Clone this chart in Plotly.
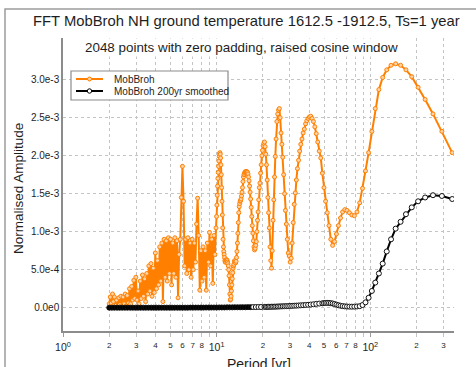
import plotly.graph_objects as go

# ---------------- data (amplitudes in units of 1e-3) ----------------
mob_period = [
    2.00, 2.03, 2.06, 2.10, 2.13, 2.16, 2.20, 2.23, 2.27, 2.31,
    2.34, 2.38, 2.42, 2.46, 2.50, 2.54, 2.58, 2.62, 2.66, 2.71,
    2.75, 2.80, 2.84, 2.89, 2.93, 2.98, 3.03, 3.08, 3.13, 3.18,
    3.23, 3.29, 3.34, 3.40, 3.45, 3.51, 3.56, 3.62, 3.68, 3.74,
    3.80, 3.87, 3.93, 3.99, 4.06, 4.12, 4.19, 4.26, 4.33, 4.40,
    4.47, 4.55, 4.62, 4.70, 4.77, 4.85, 4.93, 5.01, 5.09, 5.18,
    5.26, 5.35, 5.43, 5.52, 5.61, 5.70, 5.80, 5.89, 5.99, 6.09,
    6.19, 6.29, 6.39, 6.50, 6.60, 6.71, 6.82, 6.93, 7.05, 7.16,
    7.28, 7.40, 7.52, 7.64, 7.77, 7.90, 8.03, 8.16, 8.29, 8.43,
    8.56, 8.70, 8.85, 8.99, 9.14, 9.29, 9.44, 9.60, 9.75, 9.91,
    9.990, 10.039, 10.089, 10.139, 10.189, 10.24, 10.291, 10.343, 10.396, 10.449,
    10.503, 10.557, 10.611, 10.667, 10.723, 10.779, 10.836, 10.894, 10.952, 11.011,
    11.070, 11.130, 11.191, 11.253, 11.315, 11.378, 11.441, 11.506, 11.571, 11.636,
    11.703, 11.770, 11.838, 11.907, 11.977, 12.047, 12.118, 12.190, 12.263, 12.337,
    12.412, 12.488, 12.564, 12.642, 12.720, 12.8, 12.881, 12.962, 13.045, 13.128,
    13.213, 13.299, 13.386, 13.474, 13.563, 13.653, 13.745, 13.838, 13.932, 14.027,
    14.124, 14.222, 14.322, 14.423, 14.525, 14.629, 14.734, 14.841, 14.949, 15.059,
    15.170, 15.284, 15.398, 15.515, 15.634, 15.754, 15.876, 16.0, 16.126, 16.254,
    16.384, 16.516, 16.650, 16.787, 16.926, 17.067, 17.210, 17.356, 17.504, 17.655,
    17.809, 17.965, 18.124, 18.286, 18.450, 18.618, 18.789, 18.963, 19.140, 19.321,
    19.505, 19.692, 19.883, 20.078, 20.277, 20.48, 20.687, 20.898, 21.113, 21.333,
    21.558, 21.787, 22.022, 22.261, 22.505, 22.756, 23.011, 23.273, 23.540, 23.814,
    24.094, 24.381, 24.675, 24.976, 25.284, 25.6, 25.924, 26.256, 26.597, 26.947,
    27.307, 27.676, 28.055, 28.444, 28.845, 29.257, 29.681, 30.118, 30.567, 31.030,
    31.508, 32.0, 32.508, 33.032, 33.574, 34.133, 34.712, 35.310, 35.930, 36.571,
    37.236, 37.926, 38.642, 39.385, 40.157, 40.96, 41.796, 42.667, 43.574, 44.522,
    45.511, 46.545, 47.628, 48.762, 49.951, 51.2, 52.513, 53.895, 55.351, 56.889,
    58.514, 60.235, 62.061, 64.0, 66.065, 68.267, 70.621, 73.143, 75.852, 78.769,
    81.92, 85.333, 89.043, 93.091, 97.524, 102.4, 107.789, 113.778, 120.471, 128.0,
    136.533, 146.286, 157.538, 170.667, 186.182, 204.8, 227.556, 256.0, 292.571, 341.333,
]
mob_amp = [
    0.05, 0.14, 0.06, 0.18, 0.08, 0.14, 0.03, 0.10, 0.02, 0.13,
    0.04, 0.15, 0.02, 0.14, 0.05, 0.18, 0.02, 0.16, 0.06, 0.25,
    0.05, 0.28, 0.10, 0.36, 0.12, 0.40, 0.10, 0.22, 0.05, 0.35,
    0.12, 0.43, 0.15, 0.38, 0.08, 0.45, 0.18, 0.55, 0.22, 0.58,
    0.15, 0.52, 0.20, 0.72, 0.25, 0.62, 0.30, 0.80, 0.35, 0.85,
    0.08, 0.90, 0.40, 0.88, 0.35, 0.92, 0.45, 0.90, 0.30, 0.85,
    0.45, 0.92, 0.40, 0.88, 0.13, 0.70, 0.90, 1.45, 1.86, 1.40,
    0.55, 0.90, 0.45, 0.92, 0.50, 0.85, 0.40, 0.90, 0.50, 0.85,
    0.60, 1.10, 1.44, 0.95, 0.23, 0.75, 0.35, 0.80, 0.40, 0.75,
    0.23, 0.85, 0.60, 0.99, 0.55, 0.90, 0.32, 0.95, 0.70, 1.05,
    1.20, 1.35, 1.48, 1.60, 1.70, 1.78, 1.86, 1.93, 1.99, 2.03,
    2.04, 2.02, 1.97, 1.88, 1.75, 1.58, 1.40, 1.22, 1.05, 0.90,
    0.80, 0.74, 0.70, 0.66, 0.62, 0.60, 0.60, 0.62, 0.63, 0.63,
    0.62, 0.60, 0.58, 0.55, 0.50, 0.42, 0.30, 0.18, 0.10, 0.11,
    0.15, 0.22, 0.30, 0.38, 0.46, 0.52, 0.55, 0.57, 0.61, 0.62,
    0.60, 0.59, 0.61, 0.66, 0.74, 0.85, 0.98, 1.12, 1.25, 1.33,
    1.37, 1.40, 1.41, 1.43, 1.47, 1.52, 1.58, 1.66, 1.72, 1.75,
    1.77, 1.78, 1.79, 1.79, 1.79, 1.79, 1.78, 1.76, 1.72, 1.67,
    1.60, 1.52, 1.43, 1.32, 1.20, 1.08, 0.98, 0.88, 0.80, 0.76,
    0.78, 0.82, 0.87, 1.00, 1.15, 1.26, 1.42, 1.58, 1.64, 1.77,
    1.88, 2.00, 2.07, 2.13, 2.16, 2.18, 2.12, 2.02, 1.88, 1.68,
    1.45, 1.25, 1.05, 0.80, 0.62, 0.52, 0.75, 1.15, 1.42, 1.72,
    1.99, 2.22, 2.45, 2.55, 2.60, 2.62, 2.50, 2.30, 2.15, 1.98,
    1.75, 1.50, 1.28, 1.10, 0.90, 0.72, 0.68, 0.60, 0.65, 0.85,
    1.12, 1.36, 1.51, 1.68, 1.83, 1.94, 2.06, 2.15, 2.22, 2.30,
    2.35, 2.42, 2.46, 2.49, 2.51, 2.52, 2.49, 2.45, 2.38, 2.29,
    2.18, 2.06, 1.97, 1.77, 1.58, 1.40, 1.25, 1.08, 0.90, 0.82,
    0.87, 0.97, 1.08, 1.18, 1.26, 1.29, 1.28, 1.25, 1.22, 1.21,
    1.26, 1.38, 1.57, 1.80, 2.04, 2.32, 2.62, 2.87, 3.03, 3.13,
    3.19, 3.21, 3.19, 3.13, 3.04, 2.90, 2.74, 2.55, 2.32, 2.04,
]

smooth_period = [
    2.00, 2.08, 2.16, 2.25, 2.34, 2.43, 2.53, 2.63, 2.74, 2.85,
    2.96, 3.08, 3.20, 3.33, 3.46, 3.60, 3.75, 3.90, 4.05, 4.21,
    4.38, 4.56, 4.74, 4.93, 5.13, 5.33, 5.55, 5.77, 6.00, 6.24,
    6.49, 6.75, 7.02, 7.30, 7.59, 7.90, 8.21, 8.54, 8.88, 9.24,
    9.61, 9.99, 10.39, 10.80, 11.24, 11.69, 12.15, 12.64, 13.14, 13.67,
    14.22, 14.78, 15.38, 15.99, 16.63, 17.30, 17.99, 18.71, 19.45,
    20.48, 20.898, 21.333, 21.787, 22.261, 22.756, 23.273, 23.814, 24.381, 24.976,
    25.6, 26.256, 26.947, 27.676, 28.444, 29.257, 30.118, 31.030, 32.0, 33.032,
    34.133, 35.310, 36.571, 37.926, 39.385, 40.96, 42.667, 44.522, 46.545, 48.762,
    49.951, 51.2, 52.513, 53.895, 55.351, 56.889, 58.514, 60.235, 62.061, 64.0,
    66.065, 68.267, 70.621, 73.143, 75.852, 78.769, 81.92, 85.333, 89.043, 93.091,
    97.524, 102.4, 107.789, 113.778, 120.471, 128.0, 136.533, 146.286, 157.538, 170.667,
    186.182, 204.8, 227.556, 256.0, 292.571, 341.333,
]
smooth_amp = [
    0.000, 0.000, 0.000, 0.000, 0.000, 0.000, 0.000, 0.000, 0.000, 0.000,
    0.000, 0.000, 0.000, 0.000, 0.000, 0.000, 0.000, 0.000, 0.000, 0.000,
    0.000, 0.000, 0.000, 0.000, 0.000, 0.000, 0.000, 0.000, 0.000, 0.000,
    0.000, 0.001, 0.001, 0.001, 0.001, 0.001, 0.001, 0.002, 0.002, 0.002,
    0.002, 0.002, 0.003, 0.003, 0.003, 0.004, 0.004, 0.004, 0.005, 0.005,
    0.005, 0.006, 0.006, 0.007, 0.007, 0.008, 0.008, 0.009, 0.009,
    0.010, 0.010, 0.011, 0.011, 0.012, 0.012, 0.013, 0.013, 0.014, 0.015,
    0.016, 0.017, 0.018, 0.019, 0.020, 0.021, 0.023, 0.024, 0.026, 0.027,
    0.029, 0.031, 0.033, 0.036, 0.038, 0.041, 0.045, 0.050, 0.054, 0.058,
    0.060, 0.062, 0.063, 0.062, 0.059, 0.055, 0.048, 0.040, 0.032, 0.026,
    0.021, 0.017, 0.015, 0.014, 0.013, 0.014, 0.016, 0.020, 0.035, 0.070,
    0.13, 0.22, 0.33, 0.45, 0.58, 0.74, 0.90, 1.04, 1.13, 1.23,
    1.32, 1.40, 1.45, 1.48, 1.47, 1.43,
]

y_tickvals = [0, 5e-4, 1e-3, 1.5e-3, 2e-3, 2.5e-3, 3e-3]
y_ticktext = ["0.0e0", "5.0e-4", "1.0e-3", "1.5e-3", "2.0e-3", "2.5e-3", "3.0e-3"]

x_major_vals = [1, 10, 100]
x_major_text = ["10<sup>0</sup>", "10<sup>1</sup>", "10<sup>2</sup>"]
x_gridvals = [2, 3, 4, 5, 6, 7, 8, 9, 20, 30, 40, 50, 60, 70, 80, 90, 200, 300]
x_minor_vals = [2, 3, 4, 5, 6, 7, 8, 20, 30, 40, 50, 60, 70, 80, 200, 300]
x_minor_text = ["2", "3", "4", "5", "6", "7", "8", "2", "3", "4", "5", "6", "7", "8", "2", "3"]

# ---------------- layout helpers ----------------
W, H = 476, 367
ML, MR, MT, MB = 63, 22, 38, 36
PW, PH = W - ML - MR, H - MT - MB


def px_x(px):
    return (px - ML) / PW


def px_y(py):
    return (H - MB - py) / PH


ORANGE = "#ff8000"
FONT = "Liberation Sans, Arial, sans-serif"
TXT = "#1e1e1e"

smooth_fill = ["black" if p < 17 else "white" for p in smooth_period]

fig = go.Figure()
fig.add_trace(go.Scatter(
    x=mob_period, y=[a * 1e-3 for a in mob_amp], name="MobBroh",
    mode="lines+markers", line=dict(color=ORANGE, width=2),
    marker=dict(symbol="circle", size=4, color="#ffd2a6", line=dict(color=ORANGE, width=1)),
    showlegend=False,
))
fig.add_trace(go.Scatter(
    x=smooth_period, y=[a * 1e-3 for a in smooth_amp], name="MobBroh 200yr smoothed",
    xaxis="x2", yaxis="y",
    mode="lines+markers", line=dict(color="black", width=2),
    marker=dict(symbol="circle", size=5, color=smooth_fill, line=dict(color="#111111", width=1)),
    showlegend=False,
))

grid = dict(showgrid=True, gridcolor="#c4c4c4", griddash="dot", gridwidth=1)

fig.update_layout(
    width=W, height=H,
    margin=dict(l=ML, r=MR, t=MT, b=MB),
    paper_bgcolor="white", plot_bgcolor="white",
    font=dict(family=FONT, color=TXT),
    xaxis=dict(type="log", range=[0, 2.545], tickmode="array", tickvals=x_major_vals,
               ticktext=x_major_text, tickfont=dict(size=10.5, color=TXT),
               showline=True, linecolor="#8c8c8c", linewidth=1.5,
               ticks="outside", ticklen=4, tickcolor="#999999", zeroline=False,
               ticklabelstandoff=2,
               minor=dict(tickmode="array", tickvals=x_gridvals, ticks="outside", ticklen=4,
                          tickcolor="#c4c4c4", showgrid=True, gridcolor="#c4c4c4",
                          griddash="dot", gridwidth=1),
               **grid),
    xaxis2=dict(type="log", range=[0, 2.545], overlaying="x", anchor="y", side="bottom",
                tickmode="array", tickvals=x_minor_vals, ticktext=x_minor_text,
                tickfont=dict(size=8, color=TXT), showgrid=False, showline=False,
                ticks="", zeroline=False, ticklabelstandoff=8),
    yaxis=dict(range=[-3.07e-4, 3.549e-3], tickmode="array", tickvals=y_tickvals,
               ticktext=y_ticktext, tickfont=dict(size=10, color=TXT),
               showline=True, linecolor="#8c8c8c", linewidth=1.5, ticks="",
               zeroline=False, **grid),
    showlegend=False,
)

shapes = [
    # outer frame
    dict(type="rect", xref="paper", yref="paper", x0=px_x(5), x1=px_x(495),
         y0=px_y(390), y1=px_y(9), line=dict(color="#9c9c9c", width=1.5)),
    # legend box
    dict(type="rect", xref="paper", yref="paper", x0=px_x(71), x1=px_x(228),
         y0=px_y(100), y1=px_y(71), line=dict(color="#8c8c8c", width=1.2), fillcolor="white"),
    dict(type="line", xref="paper", yref="paper", x0=px_x(76), x1=px_x(103),
         y0=px_y(79), y1=px_y(79), line=dict(color=ORANGE, width=2)),
    dict(type="circle", xref="paper", yref="paper", x0=px_x(87.5), x1=px_x(91.5),
         y0=px_y(81), y1=px_y(77), line=dict(color=ORANGE, width=1), fillcolor="#ffd2a6"),
    dict(type="line", xref="paper", yref="paper", x0=px_x(76), x1=px_x(103),
         y0=px_y(91), y1=px_y(91), line=dict(color="black", width=2)),
    dict(type="circle", xref="paper", yref="paper", x0=px_x(87.3), x1=px_x(91.7),
         y0=px_y(93.2), y1=px_y(88.8), line=dict(color="black", width=1), fillcolor="white"),
]
fig.update_layout(shapes=shapes)

annotations = [
    dict(text="FFT MobBroh NH ground temperature 1612.5 -1912.5, Ts=1 year",
         x=px_x(246), y=px_y(21), font=dict(size=14.8)),
    dict(text="2048 points with zero padding, raised cosine window",
         x=px_x(241), y=px_y(48), font=dict(size=13.4), bgcolor="white"),
    dict(text="Normalised Amplitude", x=px_x(18), y=px_y(189), textangle=-90,
         font=dict(size=13.5)),
    dict(text="Period [yr]", x=px_x(259), y=px_y(363.5), font=dict(size=14)),
    dict(text="MobBroh", x=px_x(112), y=px_y(79), xanchor="left", font=dict(size=10)),
    dict(text="MobBroh 200yr smoothed", x=px_x(112), y=px_y(91), xanchor="left",
         font=dict(size=10)),
]
for a in annotations:
    a.setdefault("xanchor", "center")
    a.update(xref="paper", yref="paper", yanchor="middle", showarrow=False)
fig.update_layout(annotations=annotations)

fig.write_html("out.html")
